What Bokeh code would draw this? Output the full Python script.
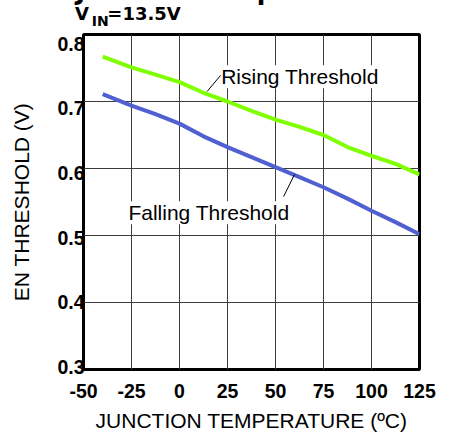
from bokeh.plotting import figure
from bokeh.models import Range1d, LinearAxis, FixedTicker, Label, Div
from bokeh.layouts import column
from bokeh.embed import file_html
from bokeh.resources import INLINE

# ---- data ----
temps = [-40, -25, -12.5, 0, 12.5, 25, 37.5, 50, 62.5, 75, 87.5, 100, 112.5, 125]
rising = [0.767, 0.751, 0.740, 0.729, 0.713, 0.700, 0.686, 0.673, 0.662, 0.650, 0.632, 0.619, 0.607, 0.591]
falling = [0.711, 0.694, 0.681, 0.667, 0.648, 0.632, 0.617, 0.602, 0.587, 0.572, 0.555, 0.537, 0.520, 0.502]

x_ticks = [-50, -25, 0, 25, 50, 75, 100, 125]
x_tick_labels = {-50: "-50", -25: "-25"}
y_ticks = [0.3, 0.4, 0.5, 0.6, 0.7, 0.8]

x_title = "JUNCTION TEMPERATURE (ºC)"
y_title = "EN THRESHOLD (V)"
title_frag = "Junction Temperature"
sub_main = "V"
sub_index = "IN"
sub_rest = "=13.5V"
rise_text = "Rising Threshold"
fall_text = "Falling Threshold"

# callout anchors (data coordinates)
rise_label_pos = (21.7, 0.737)
fall_label_pos = (-26.6, 0.534)
rise_leader_x = [14.4, 21.4]
rise_leader_y = [0.715, 0.739]
fall_leader_x = [54.2, 59.9]
fall_leader_y = [0.558, 0.591]

GREEN = "#80FF00"
BLUE = "#5060D0"
FONT = "Liberation Sans"
TFONT = "DejaVu Sans"

W = 454
HEAD_H = 28

# ---- title block (text above the plot frame) ----
span = 'position:absolute;white-space:nowrap;'
title_html = (
    f'<div style="position:relative;width:{W}px;height:{HEAD_H}px;'
    f'font-family:\'{TFONT}\';font-weight:bold;color:black;">'
    f'<span style="{span}left:76px;top:-17.6px;font-size:25px;line-height:20px;">{title_frag}</span>'
    f'<span style="{span}left:75px;top:6.8px;font-size:18px;line-height:14px;">{sub_main}</span>'
    f'<span style="{span}left:91.7px;top:16.4px;font-size:14px;line-height:11px;">{sub_index}</span>'
    f'<span style="{span}left:107.3px;top:6.8px;font-size:18px;line-height:14px;">{sub_rest}</span>'
    '</div>'
)
head = Div(text=title_html, width=W, height=HEAD_H, margin=0)

p = figure(width=W, height=435 - HEAD_H,
           x_range=Range1d(-50, 125), y_range=Range1d(0.3, 0.8),
           output_backend="svg", toolbar_location=None,
           min_border_left=83, min_border_right=35,
           min_border_top=34 - HEAD_H, min_border_bottom=66)
p.background_fill_color = "white"
p.border_fill_color = None
p.outline_line_color = "black"
p.outline_line_width = 3

# x axis
xa = p.xaxis[0]
xa.ticker = FixedTicker(ticks=x_ticks)
xa.major_label_overrides = x_tick_labels
xa.axis_line_color = None
xa.major_tick_in = 0
xa.major_tick_out = 0
xa.minor_tick_line_color = None
xa.major_label_text_font = FONT
xa.major_label_text_font_style = "bold"
xa.major_label_text_font_size = "19.5px"
xa.major_label_text_color = "black"
xa.major_label_standoff = 14
xa.axis_label = x_title
xa.axis_label_text_font = FONT
xa.axis_label_text_font_style = "normal"
xa.axis_label_text_font_size = "21px"
xa.axis_label_text_color = "black"
xa.axis_label_standoff = 8

# y axis: labels drawn by an axis on a slightly different range (as in the reference)
p.left = []
p.extra_y_ranges = {"lab": Range1d(0.29582, 0.81456)}
ya = LinearAxis(y_range_name="lab", ticker=FixedTicker(ticks=y_ticks))
ya.axis_line_color = None
ya.major_tick_in = 0
ya.major_tick_out = 0
ya.minor_tick_line_color = None
ya.major_label_text_font = FONT
ya.major_label_text_font_style = "bold"
ya.major_label_text_font_size = "19.5px"
ya.major_label_text_color = "black"
ya.major_label_standoff = -1
ya.axis_label = y_title
ya.axis_label_text_font = FONT
ya.axis_label_text_font_style = "normal"
ya.axis_label_text_font_size = "21px"
ya.axis_label_text_color = "black"
ya.axis_label_standoff = 21
p.add_layout(ya, "left")

# grids
p.xgrid.ticker = FixedTicker(ticks=x_ticks)
p.ygrid.ticker = FixedTicker(ticks=y_ticks)
for g in (p.xgrid[0], p.ygrid[0]):
    g.grid_line_color = "#3c3c3c"
    g.grid_line_width = 1

# curves
p.line(temps, rising, line_color=GREEN, line_width=4)
p.line(temps, falling, line_color=BLUE, line_width=4)

# callouts
p.line(rise_leader_x, rise_leader_y, line_color="black", line_width=1)
p.line(fall_leader_x, fall_leader_y, line_color="black", line_width=1)
p.add_layout(Label(x=rise_label_pos[0], y=rise_label_pos[1], text=rise_text,
                   text_font=FONT, text_font_size="21px", text_color="black",
                   text_align="left", text_baseline="alphabetic",
                   background_fill_color="white"))
p.add_layout(Label(x=fall_label_pos[0], y=fall_label_pos[1], text=fall_text,
                   text_font=FONT, text_font_size="21px", text_color="black",
                   text_align="left", text_baseline="alphabetic",
                   background_fill_color="white"))

layout = column(head, p)
open("out.html", "w").write(file_html(layout, INLINE))
